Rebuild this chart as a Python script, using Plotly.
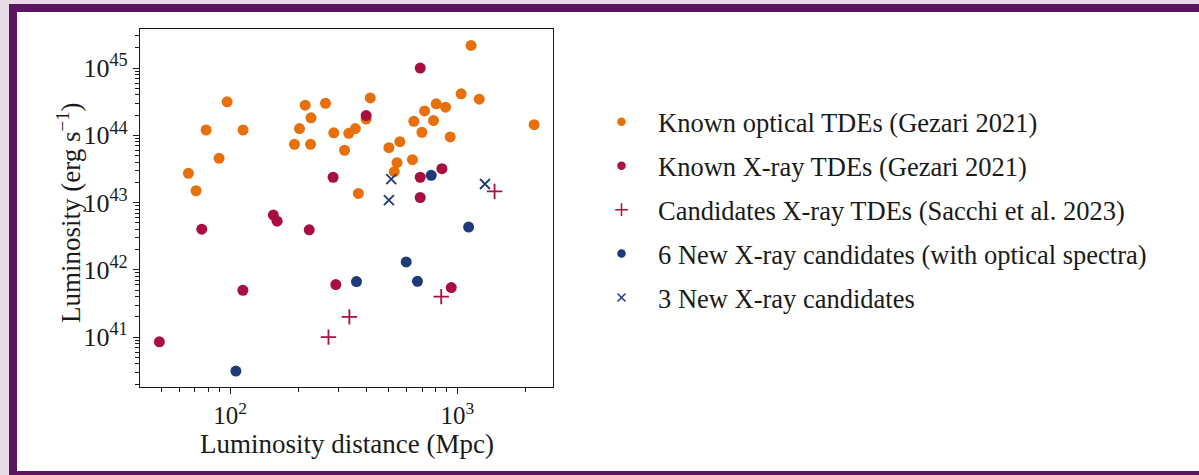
import math
import plotly.graph_objects as go

# Known optical TDEs (Gezari 2021): luminosity distance (Mpc), luminosity (erg/s)
optical_dist = [1150, 97, 214, 263, 414, 1040, 1250, 808, 888, 718, 227, 397,
                644, 786, 2180, 78.4, 114, 202, 356, 333, 286, 699, 192, 226,
                931, 559, 500, 319, 89.4, 635, 543, 528, 65.5, 70.8, 367]
optical_lum = [2.17e45, 3.15e44, 2.81e44, 3.0e44, 3.6e44, 4.14e44, 3.45e44,
               2.94e44, 2.62e44, 2.31e44, 1.82e44, 1.75e44, 1.62e44, 1.66e44,
               1.44e44, 1.20e44, 1.20e44, 1.26e44, 1.26e44, 1.07e44, 1.09e44,
               1.11e44, 7.36e43, 7.36e43, 9.46e43, 8.05e43, 6.56e43, 6.0e43,
               4.56e43, 4.35e43, 3.92e43, 2.88e43, 2.72e43, 1.50e43, 1.37e43]

# Known X-ray TDEs (Gezari 2021)
xray_dist = [687, 397, 856, 284, 687, 687, 155, 161, 75.0, 223, 113.8, 292, 941, 48.8]
xray_lum = [1.0e45, 1.97e44, 3.19e43, 2.38e43, 2.38e43, 1.19e43, 6.52e42,
            5.3e42, 4.03e42, 3.94e42, 4.97e41, 6.04e41, 5.45e41, 8.5e40]

# Candidate X-ray TDEs (Sacchi et al. 2023)
cand_dist = [1460, 850, 335, 271]
cand_lum = [1.47e43, 4.0e41, 2.0e41, 1.0e41]

# New X-ray candidates with optical spectra
new6_dist = [768, 1122, 596, 360, 668, 106]
new6_lum = [2.54e43, 4.32e42, 1.31e42, 6.7e41, 6.76e41, 3.13e40]

# New X-ray candidates without spectra
new3_dist = [512, 500, 1324]
new3_lum = [2.24e43, 1.09e43, 1.89e43]

x_major = [100, 1000]
x_major_text = ["10<sup>2</sup>", "10<sup>3</sup>"]
y_major = [1e41, 1e42, 1e43, 1e44, 1e45]
y_major_text = ["10<sup>41</sup>", "10<sup>42</sup>", "10<sup>43</sup>",
                "10<sup>44</sup>", "10<sup>45</sup>"]

x_title = "Luminosity distance (Mpc)"
y_title = "Luminosity (erg s<sup>\u22121</sup>)"

x_range = (40.1, 2640.0)
y_range = (10 ** 40.258, 10 ** 45.581)

W, H = 1199, 475
M_L, M_R, M_T, M_B = 140, 646, 29, 88
PLOT_W = W - M_L - M_R
PLOT_H = H - M_T - M_B


def paper_x(px):
    return (px - M_L) / PLOT_W


def paper_y(py):
    return (H - M_B - py) / PLOT_H


ORANGE = "#E8700C"
CRIMSON = "#A80F40"
NAVY = "#1F3A78"
PURPLE = "#5C1660"
LAVENDER = "#E7DBE9"
INK = "#1a1a1a"
FONT = "Liberation Serif"


def minor_ticks(lo, hi):
    vals = []
    for e in range(int(math.floor(math.log10(lo))), int(math.ceil(math.log10(hi))) + 1):
        for m in range(2, 10):
            v = float(m) * 10.0 ** e
            if lo <= v <= hi:
                vals.append(v)
    return vals


series = [
    ("Known optical TDEs (Gezari 2021)", optical_dist, optical_lum, "circle", ORANGE, 11, 8.5),
    ("Known X-ray TDEs (Gezari 2021)", xray_dist, xray_lum, "circle", CRIMSON, 11, 8.5),
    ("Candidates X-ray TDEs (Sacchi et al. 2023)", cand_dist, cand_lum, "cross-thin", CRIMSON, 11, 9),
    ("6 New X-ray candidates (with optical spectra)", new6_dist, new6_lum, "circle", NAVY, 11, 8.5),
    ("3 New X-ray candidates", new3_dist, new3_lum, "x-thin", NAVY, 10, 8),
]

fig = go.Figure()

for i, (name, xs, ys, sym, col, size, leg_size) in enumerate(series):
    thin = sym.endswith("thin")
    marker = dict(symbol=sym, size=size, color=col,
                  line=dict(color=col, width=1.8 if thin else 0))
    fig.add_trace(go.Scatter(x=xs, y=ys, mode="markers", marker=marker,
                             name=name, showlegend=False, hoverinfo="x+y"))
for i, (name, xs, ys, sym, col, size, leg_size) in enumerate(series):
    thin = sym.endswith("thin")
    fig.add_trace(go.Scatter(
        x=[None], y=[None], mode="markers", name=name, legendgroup=f"g{i}",
        marker=dict(symbol=sym, size=leg_size, color=col,
                    line=dict(color=col, width=1.5 if thin else 0)),
        showlegend=True))

axis_common = dict(
    type="log", showgrid=False, zeroline=False,
    showline=True, linecolor=INK, linewidth=1.2, mirror=True,
    ticks="outside", ticklen=6, tickwidth=1, tickcolor=INK,
    tickfont=dict(family=FONT, size=26, color=INK),
)

fig.update_xaxes(
    **axis_common,
    range=[math.log10(x_range[0]), math.log10(x_range[1])],
    tickmode="array", tickvals=x_major, ticktext=x_major_text,
    tickfont_size=25,
    minor=dict(tickmode="array", tickvals=minor_ticks(*x_range),
               ticks="outside", ticklen=3.5, tickwidth=1, tickcolor=INK),
)
fig.update_yaxes(
    **axis_common,
    range=[math.log10(y_range[0]), math.log10(y_range[1])],
    tickmode="array", tickvals=y_major, ticktext=y_major_text,
    minor=dict(tickmode="array", tickvals=minor_ticks(*y_range),
               ticks="outside", ticklen=3.5, tickwidth=1, tickcolor=INK),
)

# Axis titles
fig.add_annotation(text=x_title, xref="paper", yref="paper",
                   x=paper_x(347), y=paper_y(444), xanchor="center", yanchor="middle",
                   showarrow=False, font=dict(family=FONT, size=27, color=INK))
fig.add_annotation(text=y_title, xref="paper", yref="paper", textangle=-90,
                   x=paper_x(69), y=paper_y(213), xanchor="center", yanchor="middle",
                   showarrow=False, font=dict(family=FONT, size=27, color=INK))

# Purple framed panel behind the chart
fig.add_shape(type="rect", xref="paper", yref="paper", layer="below",
              x0=paper_x(9), x1=paper_x(W + 20), y0=paper_y(H + 20), y1=paper_y(4),
              fillcolor=PURPLE, line=dict(width=0))
fig.add_shape(type="rect", xref="paper", yref="paper", layer="below",
              x0=paper_x(17), x1=paper_x(W + 10), y0=paper_y(471), y1=paper_y(12),
              fillcolor="white", line=dict(width=0))

fig.update_layout(
    width=W, height=H,
    margin=dict(l=M_L, r=M_R, t=M_T, b=M_B, pad=0, autoexpand=False),
    paper_bgcolor=LAVENDER, plot_bgcolor="white",
    font=dict(family=FONT, color=INK),
    showlegend=True,
    legend=dict(
        x=paper_x(585), y=paper_y(98), xanchor="left", yanchor="top",
        bgcolor="rgba(0,0,0,0)", borderwidth=0,
        font=dict(family=FONT, size=26.5, color=INK),
        itemwidth=63, tracegroupgap=6.5,
    ),
)

fig.write_html("out.html")
